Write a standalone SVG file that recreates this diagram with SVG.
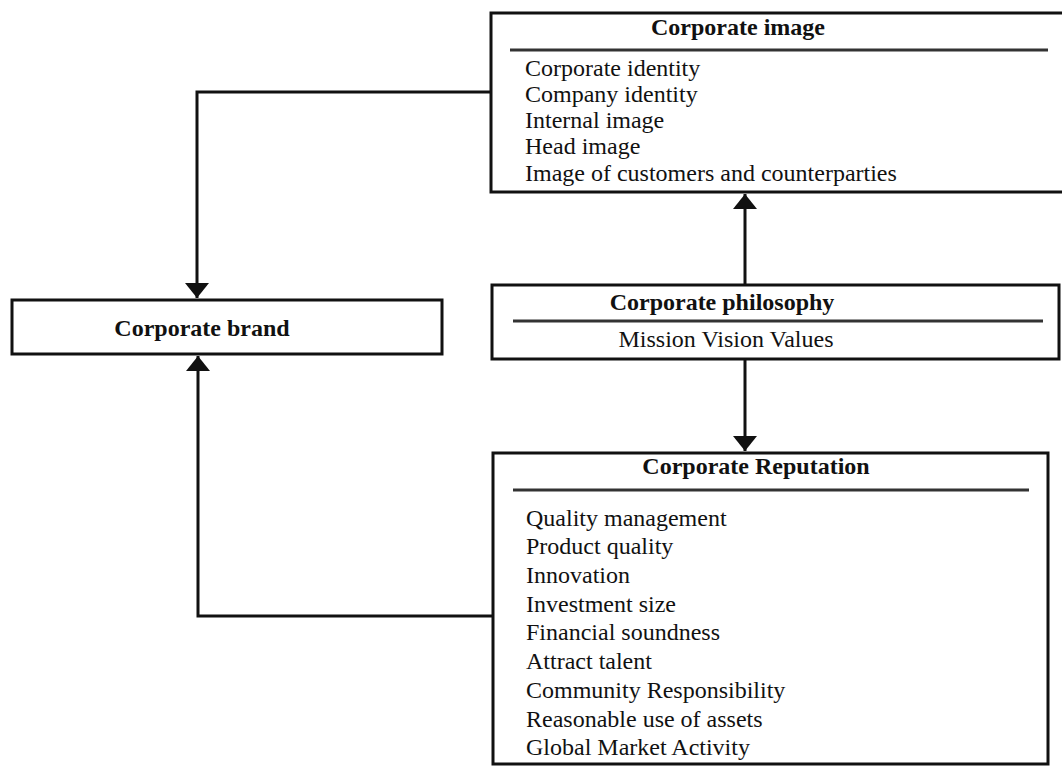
<svg xmlns="http://www.w3.org/2000/svg" width="1062" height="767" viewBox="0 0 1062 767">
<style>
.box{fill:#fff;stroke:#111;stroke-width:3}
.sep{stroke:#333;stroke-width:3}
.conn{fill:none;stroke:#111;stroke-width:3}
.t{font-family:"Liberation Serif","Times New Roman",serif;font-size:24px;fill:#111}
.b{font-weight:bold;text-anchor:middle}
</style>
<defs>
<marker id="ah" markerWidth="16" markerHeight="24" refX="15" refY="12" orient="auto" markerUnits="userSpaceOnUse">
<path d="M0,0 L15,12 L0,24 Z" fill="#111"/>
</marker>
</defs>
<rect width="1062" height="767" fill="#fff"/>
<g id="connectors">
<path class="conn" d="M491,92 H197 V298" marker-end="url(#ah)"/>
<path class="conn" d="M493,616 H198 V356" marker-end="url(#ah)"/>
<path class="conn" d="M745,284 V194" marker-end="url(#ah)"/>
<path class="conn" d="M745,359 V451" marker-end="url(#ah)"/>
</g>
<g id="corporate-image">
<rect class="box" x="491" y="13" width="580" height="179"/>
<text class="t b" x="738" y="35">Corporate image</text>
<line class="sep" x1="510" y1="50" x2="1048" y2="50"/>
<text class="t" x="525" y="76">Corporate identity</text>
<text class="t" x="525" y="102">Company identity</text>
<text class="t" x="525" y="128">Internal image</text>
<text class="t" x="525" y="154">Head image</text>
<text class="t" x="525" y="181">Image of customers and counterparties</text>
</g>
<g id="corporate-brand">
<rect class="box" x="12" y="300" width="430" height="54"/>
<text class="t b" x="202" y="336">Corporate brand</text>
</g>
<g id="corporate-philosophy">
<rect class="box" x="492" y="285" width="567" height="74"/>
<text class="t b" x="722" y="310">Corporate philosophy</text>
<line class="sep" x1="513" y1="321" x2="1043" y2="321"/>
<text class="t" x="726" y="347" text-anchor="middle">Mission Vision Values</text>
</g>
<g id="corporate-reputation">
<rect class="box" x="493" y="453" width="555" height="311"/>
<text class="t b" x="756" y="474">Corporate Reputation</text>
<line class="sep" x1="513" y1="490" x2="1029" y2="490"/>
<text class="t" x="526" y="526">Quality management</text>
<text class="t" x="526" y="554">Product quality</text>
<text class="t" x="526" y="583">Innovation</text>
<text class="t" x="526" y="612">Investment size</text>
<text class="t" x="526" y="640">Financial soundness</text>
<text class="t" x="526" y="669">Attract talent</text>
<text class="t" x="526" y="698">Community Responsibility</text>
<text class="t" x="526" y="727">Reasonable use of assets</text>
<text class="t" x="526" y="755">Global Market Activity</text>
</g>
</svg>
